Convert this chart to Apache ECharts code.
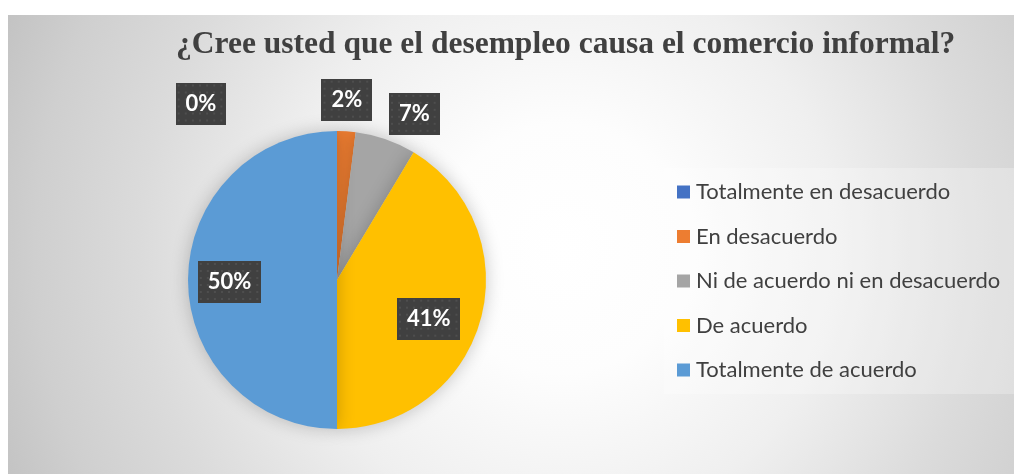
<!DOCTYPE html>
<html>
<head>
<meta charset="utf-8">
<script src="https://cdn.jsdelivr.net/npm/echarts@6/dist/echarts.min.js"></script>
<style>
  html, body { margin: 0; padding: 0; background: #fff; }
  #chart { position: absolute; left: 8px; top: 15px; width: 1006px; height: 459px; }
</style>
</head>
<body>
<div id="chart"></div>
<script>
    // survey answers (percent of respondents)
    var categories = [
        'Totalmente en desacuerdo',
        'En desacuerdo',
        'Ni de acuerdo ni en desacuerdo',
        'De acuerdo',
        'Totalmente de acuerdo'
    ];
    var percents = [0, 2, 6.6, 41.4, 50];

    var sliceColors = ['#4472C4', '#ED7D31', '#A5A5A5', '#FFC000', '#5B9BD5'];
    // nudges from the default inside spot, to place labels like Excel did
    var labelOffsets = [[-136, -99], [5, -103], [52, -93], [17, 18], [-30, 2]];

    // dark dotted tile behind the data labels
    function dotTile(w, h) {
        var c = document.createElement('canvas');
        c.width = w; c.height = h;
        var ctx = c.getContext('2d');
        ctx.fillStyle = '#404040';
        ctx.fillRect(0, 0, w, h);
        ctx.fillStyle = '#4e4e4e';
        for (var y = 2; y < h; y += 7) {
            for (var x = 2; x < w; x += 7) ctx.fillRect(x, y, 2, 2);
        }
        return c;
    }
    var tileSmall = dotTile(50, 42);
    var tileWide = dotTile(63, 42);

    var chart = echarts.init(document.getElementById('chart'));

    var data = categories.map(function (name, i) {
        var txt = Math.round(percents[i]) + '%';
        return {
            name: name,
            value: percents[i],
            itemStyle: { color: sliceColors[i] },
            label: {
                offset: labelOffsets[i],
                backgroundColor: { image: txt.length > 2 ? tileWide : tileSmall }
            }
        };
    });

    chart.setOption({
        backgroundColor: {
            type: 'radial', x: 0.55, y: 0.51, r: 1.35,
            colorStops: [
                { offset: 0, color: '#ffffff' },
                { offset: 0.2, color: '#fdfdfd' },
                { offset: 0.45, color: '#efefef' },
                { offset: 0.68, color: '#dbdbdb' },
                { offset: 0.85, color: '#cfcfcf' },
                { offset: 1, color: '#c0c0c0' }
            ]
        },
        title: {
            text: '¿Cree usted que el desempleo causa el comercio informal?',
            left: 163,
            top: 9,
            textStyle: {
                fontFamily: 'Liberation Serif',
                fontWeight: 'bold',
                fontSize: 31.5,
                color: '#404040'
            }
        },
        legend: {
            orient: 'vertical',
            left: 656,
            top: 153,
            padding: [13, 40, 13, 13],
            backgroundColor: 'rgba(255,255,255,0.25)',
            itemWidth: 13,
            itemHeight: 13,
            itemGap: 22.5,
            icon: 'rect',
            textStyle: {
                fontFamily: 'Lato',
                fontSize: 22,
                lineHeight: 20,
                color: '#404040',
                padding: [0, 0, 0, 1]
            },
            data: categories
        },
        series: [{
            type: 'pie',
            center: [329, 265],
            radius: 149,
            startAngle: 90,
            clockwise: true,
            animation: false,
            avoidLabelOverlap: false,
            itemStyle: {
                shadowBlur: 18,
                shadowColor: 'rgba(0,0,0,0.22)'
            },
            label: {
                show: true,
                position: 'inside',
                formatter: function (p) { return Math.round(p.value) + '%'; },
                fontFamily: 'Lato',
                fontWeight: 'bold',
                fontSize: 22,
                lineHeight: 22,
                color: '#ffffff',
                align: 'center',
                padding: [10, 10],
                shadowBlur: 6,
                shadowOffsetX: 3,
                shadowOffsetY: 3,
                shadowColor: 'rgba(0,0,0,0.45)'
            },
            labelLine: { show: false },
            emphasis: { disabled: true },
            data: data
        }]
    });
</script>
</body>
</html>
